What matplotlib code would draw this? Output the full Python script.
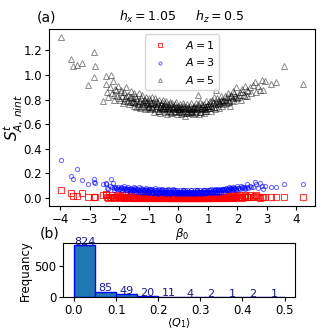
import matplotlib
matplotlib.use('Agg')
import matplotlib.pyplot as plt
import numpy as np

plt.rc('font', size=8.5)
plt.rc('xtick.major', size=3, pad=2)
plt.rc('ytick.major', size=3, pad=2)

# beta_0 samples (shared by every subsystem size A)
beta0 = [-2.46,-2.41,-2.37,-2.31,-2.26,-2.22,-2.17,-2.12,-2.08,-2.03,
         -1.98,-1.95,-1.91,-1.87,-1.84,-1.80,-1.77,-1.73,-1.70,-1.66,-1.63,-1.60,-1.57,-1.55,-1.52,-1.51,
         -1.49,-1.46,-1.44,-1.41,-1.38,-1.35,-1.33,-1.30,-1.27,-1.25,-1.22,-1.19,-1.17,-1.14,-1.11,-1.09,-1.07,-1.05,-1.03,-1.01,
         -0.99,-0.97,-0.95,-0.92,-0.90,-0.88,-0.86,-0.84,-0.81,-0.79,-0.77,-0.75,-0.73,-0.70,-0.68,-0.66,-0.64,-0.62,-0.59,-0.57,-0.55,-0.53,-0.52,-0.50,
         -0.49,-0.47,-0.45,-0.43,-0.41,-0.39,-0.37,-0.35,-0.33,-0.31,-0.29,-0.27,-0.25,-0.23,-0.21,-0.19,-0.17,-0.15,-0.13,-0.11,-0.09,-0.07,-0.05,-0.04,-0.02,-0.01,
         0.01,0.03,0.04,0.06,0.08,0.10,0.12,0.14,0.16,0.18,0.20,0.22,0.24,0.26,0.28,0.30,0.32,0.34,0.36,0.38,0.40,0.42,0.44,0.46,0.48,0.49,
         0.51,0.53,0.55,0.57,0.59,0.61,0.63,0.66,0.68,0.70,0.72,0.74,0.76,0.78,0.80,0.82,0.85,0.87,0.89,0.91,0.93,0.95,0.97,0.99,
         1.01,1.04,1.06,1.09,1.11,1.14,1.16,1.19,1.21,1.24,1.27,1.29,1.32,1.34,1.37,1.39,1.42,1.44,1.47,1.49,
         1.52,1.55,1.58,1.61,1.64,1.67,1.70,1.73,1.76,1.79,1.82,1.85,1.88,1.91,1.94,1.97,
         2.03,2.08,2.12,2.17,2.21,2.26,2.31,2.36,2.42,2.47,
         2.54,2.62,2.70,2.76,2.82,
         -3.97,-3.65,-3.57,-3.42,-3.27,-3.06,-2.86,-2.81,-2.86,-2.47,-2.27,-2.56,
         3.57,4.22,3.32,3.15,2.93,2.59,2.85,
         -2.19,-2.14,-2.01,-1.93,-1.86,-1.78,-1.72,-1.65,-1.59,-1.53,
         -1.47,-1.42,-1.36,-1.31,-1.26,-1.21,-1.16,-1.12,-1.06,-1.02,
         -0.98,-0.93,-0.89,-0.85,-0.80,-0.76,-0.72,-0.67,-0.63,-0.58,-0.54,-0.51,
         -0.48,-0.44,-0.40,-0.36,-0.32,-0.28,-0.24,-0.20,-0.16,-0.12,-0.08,-0.03,
         0.02,0.05,0.09,0.13,0.17,0.21,0.25,0.29,0.33,0.37,0.41,0.45,
         0.52,0.56,0.60,0.64,0.69,0.73,0.77,0.81,0.86,0.90,0.94,0.98,
         1.03,1.08,1.13,1.18,1.23,1.28,1.33,1.38,1.43,1.48,
         1.53,1.60,1.66,1.72,1.78,1.84,1.90,1.96,
         2.06,2.15,2.24,2.33]

S_A1 = [0.02,0.01,0.00,0.01,0.02,0.01,0.00,0.01,0.02,0.01,
        0.01,0.00,0.02,0.01,0.00,0.01,0.02,0.01,0.00,0.01,0.01,0.02,0.00,0.01,0.01,0.00,
        0.01,0.00,0.01,0.02,0.00,0.01,0.01,0.00,0.02,0.01,0.00,0.01,0.01,0.00,0.01,0.02,0.00,0.01,0.00,0.01,
        0.00,0.01,0.01,0.00,0.01,0.00,0.01,0.01,0.00,0.01,0.00,0.01,0.00,0.01,0.01,0.00,0.01,0.00,0.01,0.00,0.01,0.01,0.00,0.01,
        0.01,0.00,0.01,0.00,0.01,0.00,0.00,0.01,0.00,0.01,0.00,0.01,0.00,0.00,0.01,0.00,0.01,0.00,0.00,0.01,0.00,0.01,0.00,0.00,0.01,0.00,
        0.00,0.01,0.00,0.01,0.00,0.00,0.01,0.00,0.00,0.01,0.00,0.01,0.00,0.00,0.01,0.00,0.01,0.00,0.00,0.01,0.00,0.00,0.01,0.00,0.01,0.00,
        0.01,0.00,0.00,0.01,0.00,0.01,0.00,0.00,0.01,0.00,0.01,0.00,0.00,0.01,0.00,0.01,0.00,0.00,0.01,0.00,0.01,0.00,0.00,0.01,
        0.00,0.01,0.00,0.01,0.00,0.01,0.01,0.00,0.01,0.00,0.01,0.00,0.01,0.01,0.00,0.01,0.00,0.01,0.01,0.00,
        0.01,0.00,0.01,0.01,0.00,0.02,0.01,0.00,0.01,0.01,0.02,0.00,0.01,0.01,0.00,0.02,
        0.01,0.02,0.01,0.00,0.01,0.02,0.01,0.01,0.02,0.01,
        0.01,0.02,0.01,0.00,0.01,
        0.065,0.035,0.015,0.015,0.035,0.005,0.01,0.005,0.01,0.03,0.01,0.02,
        0.005,0.005,0.005,0.01,0.01,0.015,0.005,
        0.01,0.005,0.015,0.005,0.01,0.005,0.01,0.005,0.015,0.005,
        0.005,0.01,0.005,0.005,0.01,0.005,0.005,0.01,0.005,0.005,
        0.005,0.005,0.01,0.005,0.005,0.005,0.01,0.005,0.005,0.005,0.01,0.005,
        0.005,0.005,0.005,0.01,0.005,0.005,0.005,0.005,0.01,0.005,0.005,0.005,
        0.005,0.005,0.01,0.005,0.005,0.005,0.005,0.01,0.005,0.005,0.005,0.005,
        0.005,0.01,0.005,0.005,0.005,0.01,0.005,0.005,0.005,0.01,0.005,0.005,
        0.005,0.01,0.005,0.005,0.01,0.005,0.005,0.01,0.005,0.01,
        0.005,0.01,0.005,0.015,0.005,0.01,0.005,0.015,
        0.01,0.005,0.015,0.01]

S_A3 = [0.11,0.08,0.07,0.10,0.09,0.12,0.06,0.08,0.07,0.09,
        0.07,0.09,0.06,0.08,0.10,0.07,0.08,0.06,0.09,0.07,0.05,0.08,0.06,0.07,0.09,0.06,
        0.06,0.08,0.05,0.07,0.06,0.09,0.05,0.06,0.08,0.04,0.07,0.06,0.05,0.07,0.06,0.08,0.05,0.06,0.04,0.07,
        0.05,0.07,0.04,0.06,0.05,0.07,0.04,0.06,0.05,0.08,0.04,0.06,0.05,0.03,0.06,0.07,0.05,0.04,0.06,0.05,0.07,0.04,0.06,0.05,
        0.04,0.06,0.05,0.03,0.06,0.05,0.04,0.07,0.05,0.04,0.06,0.03,0.05,0.06,0.04,0.05,0.07,0.04,0.05,0.06,0.03,0.05,0.04,0.06,0.05,0.04,
        0.05,0.04,0.06,0.05,0.03,0.05,0.04,0.06,0.05,0.04,0.05,0.03,0.06,0.04,0.05,0.06,0.04,0.05,0.03,0.05,0.04,0.06,0.05,0.04,0.05,0.03,
        0.04,0.05,0.06,0.04,0.05,0.03,0.06,0.05,0.04,0.05,0.06,0.04,0.05,0.03,0.05,0.06,0.04,0.05,0.04,0.06,0.05,0.04,0.06,0.05,
        0.05,0.06,0.04,0.05,0.07,0.05,0.04,0.06,0.05,0.07,0.04,0.06,0.05,0.07,0.06,0.04,0.06,0.05,0.07,0.06,
        0.06,0.07,0.05,0.08,0.06,0.07,0.09,0.06,0.08,0.07,0.06,0.09,0.07,0.08,0.06,0.10,
        0.08,0.07,0.10,0.08,0.09,0.07,0.11,0.08,0.10,0.09,
        0.09,0.11,0.08,0.12,0.10,
        0.31,0.18,0.15,0.235,0.145,0.115,0.15,0.12,0.13,0.12,0.155,0.11,
        0.11,0.11,0.09,0.085,0.10,0.13,0.07,
        0.08,0.09,0.07,0.08,0.07,0.06,0.07,0.06,0.07,0.06,
        0.06,0.07,0.05,0.06,0.05,0.06,0.05,0.06,0.05,0.06,
        0.05,0.06,0.05,0.04,0.05,0.06,0.05,0.04,0.05,0.06,0.05,0.04,
        0.05,0.04,0.05,0.06,0.04,0.05,0.04,0.05,0.06,0.04,0.05,0.04,
        0.05,0.04,0.05,0.04,0.06,0.05,0.04,0.05,0.04,0.05,0.06,0.04,
        0.05,0.04,0.05,0.06,0.04,0.05,0.05,0.04,0.06,0.05,0.04,0.05,
        0.05,0.06,0.05,0.06,0.05,0.06,0.06,0.05,0.06,0.07,
        0.06,0.07,0.06,0.07,0.08,0.07,0.08,0.07,
        0.08,0.09,0.08,0.09]

S_A5 = [0.93,0.86,0.82,0.90,0.85,0.95,0.80,0.88,0.83,0.91,
        0.80,0.88,0.83,0.77,0.86,0.81,0.90,0.79,0.84,0.76,0.82,0.87,0.78,0.81,0.85,0.75,
        0.78,0.83,0.74,0.80,0.76,0.85,0.79,0.73,0.81,0.77,0.84,0.75,0.80,0.72,0.78,0.82,0.76,0.79,0.74,0.81,
        0.75,0.80,0.72,0.77,0.82,0.74,0.78,0.70,0.76,0.81,0.73,0.79,0.75,0.71,0.77,0.80,0.74,0.69,0.76,0.78,0.72,0.75,0.80,0.73,
        0.72,0.77,0.70,0.75,0.79,0.73,0.68,0.76,0.74,0.71,0.78,0.73,0.69,0.75,0.77,0.72,0.74,0.70,0.76,0.73,0.71,0.78,0.68,0.74,0.72,0.75,
        0.73,0.70,0.76,0.72,0.68,0.74,0.71,0.77,0.69,0.73,0.75,0.67,0.72,0.74,0.70,0.76,0.71,0.73,0.69,0.75,0.72,0.70,0.77,0.71,0.74,0.68,
        0.72,0.75,0.69,0.73,0.77,0.70,0.74,0.84,0.76,0.68,0.73,0.78,0.72,0.70,0.75,0.73,0.69,0.76,0.74,0.71,0.79,0.72,0.75,0.73,
        0.76,0.73,0.79,0.75,0.71,0.80,0.77,0.74,0.82,0.72,0.78,0.88,0.81,0.76,0.73,0.79,0.77,0.83,0.75,0.80,
        0.79,0.76,0.83,0.80,0.77,0.85,0.78,0.82,0.75,0.84,0.80,0.87,0.79,0.83,0.90,0.81,
        0.82,0.86,0.80,0.89,0.84,0.91,0.83,0.87,0.90,0.85,
        0.92,0.86,0.91,0.88,0.96,
        1.31,1.13,1.07,1.08,1.10,0.915,1.185,1.07,0.98,0.99,1.0,0.79,
        1.07,0.93,0.94,0.93,0.95,0.94,0.88,
        0.84,0.89,0.81,0.86,0.79,0.83,0.80,0.78,0.82,0.79,
        0.77,0.81,0.75,0.79,0.74,0.78,0.76,0.80,0.73,0.77,
        0.74,0.77,0.73,0.76,0.72,0.75,0.78,0.71,0.74,0.76,0.73,0.75,
        0.73,0.75,0.71,0.74,0.72,0.76,0.70,0.73,0.75,0.71,0.74,0.72,
        0.72,0.74,0.70,0.73,0.75,0.71,0.73,0.69,0.74,0.72,0.70,0.73,
        0.73,0.71,0.74,0.72,0.75,0.70,0.73,0.76,0.72,0.74,0.71,0.75,
        0.75,0.77,0.73,0.78,0.76,0.74,0.79,0.77,0.80,0.78,
        0.80,0.78,0.82,0.79,0.83,0.81,0.85,0.82,
        0.84,0.86,0.83,0.88]

# histogram of <Q_1>
q1_edges = [0.0,0.05,0.10,0.15,0.20,0.25,0.30,0.35,0.40,0.45,0.50]
q1_counts = [824,85,49,20,11,4,2,1,2,1]

fig = plt.figure(figsize=(3.32,3.32), dpi=100)
ax1 = fig.add_axes([0.148,0.38,0.801,0.533])
ax2 = fig.add_axes([0.191,0.104,0.698,0.165])

ax1.plot(beta0, S_A1, 's', ls='none', mfc='none', mec='red', ms=4, mew=0.8, alpha=0.75, label='$A=1$')
ax1.plot(beta0, S_A3, 'o', ls='none', mfc='none', mec='blue', ms=3, mew=0.8, alpha=0.55, label='$A=3$')
ax1.plot(beta0, S_A5, '^', ls='none', mfc='none', mec='black', ms=4, mew=0.7, alpha=0.45, label='$A=5$')
ax1.set_xlabel(r'$\beta_0$', labelpad=0)
ax1.set_ylabel(r'$S^{t}_{A,\,nint}$', fontsize=11, labelpad=-1)
ax1.set_title(r'$h_x = 1.05$     $h_z = 0.5$', fontsize=9)
ax1.set_xticks([-4,-3,-2,-1,0,1,2,3,4])
ax1.set_yticks([0.0,0.2,0.4,0.6,0.8,1.0,1.2])
ax1.legend(loc='upper center', fontsize=8, markerscale=0.7, handletextpad=1.2, borderpad=0.4)

centers = (np.array(q1_edges[:-1]) + np.array(q1_edges[1:])) / 2
n, b, bars = ax2.hist(centers, bins=q1_edges, weights=q1_counts, color='#1f77b4', edgecolor='blue', linewidth=1)
ax2.bar_label(bars, labels=[str(c) for c in q1_counts], color='#1a1a8c', fontsize=8, padding=-1)
ax2.set_xlabel(r'$\langle Q_1 \rangle$', fontsize=8, labelpad=-1)
ax2.set_ylabel('Frequancy', labelpad=2)
ax2.set_yticks([0,500])

fig.text(0.11,0.946,'(a)', fontsize=10, va='center')
fig.text(0.12,0.298,'(b)', fontsize=10, va='center')

plt.savefig('out.png', dpi=100)
